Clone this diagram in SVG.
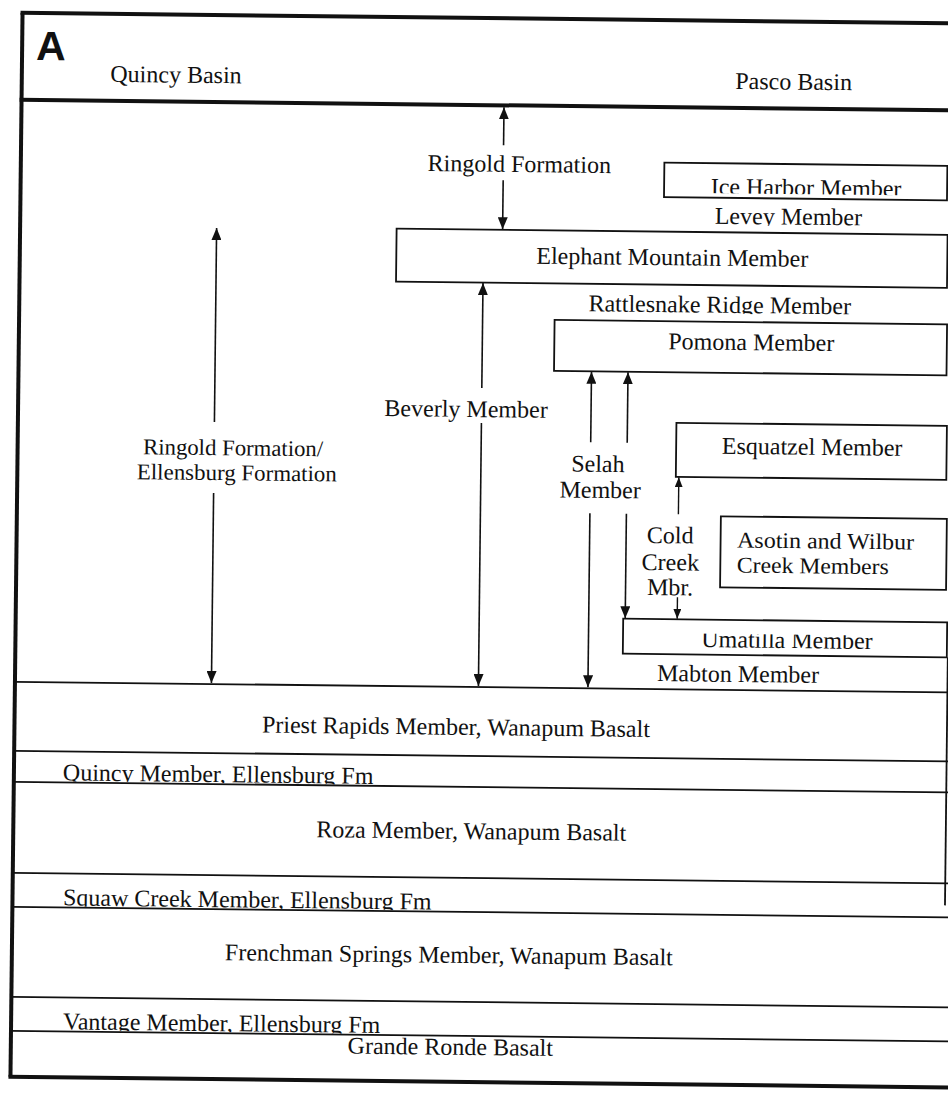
<svg xmlns="http://www.w3.org/2000/svg" width="948" height="1096" viewBox="0 0 948 1096">
  <style>
    .t { font-family: "Liberation Serif", "Times New Roman", serif; font-size: 24px; fill: #111; }
    .t2 { font-family: "Liberation Serif", "Times New Roman", serif; font-size: 22.5px; fill: #111; }
    .c { text-anchor: middle; }
    .box { fill: none; stroke: #111; stroke-width: 1.8; }
    .band { stroke: #111; stroke-width: 1.8; fill: none; }
    .frame { stroke: #111; stroke-width: 4; fill: none; }
    .arr { stroke: #111; stroke-width: 1.6; fill: none; marker-end: url(#ah); }
    .arr-s { stroke: #111; stroke-width: 1.4; fill: none; marker-end: url(#ahs); }
  </style>
  <defs>
    <marker id="ah" viewBox="0 0 12 10" refX="12" refY="5" markerWidth="12" markerHeight="10" markerUnits="userSpaceOnUse" orient="auto">
      <path d="M0,0 L12,5 L0,10 z" fill="#111"/>
    </marker>
    <marker id="ahs" viewBox="0 0 10 8" refX="10" refY="4" markerWidth="10" markerHeight="8" markerUnits="userSpaceOnUse" orient="auto">
      <path d="M0,0 L10,4 L0,8 z" fill="#111"/>
    </marker>
    <!-- clip regions that trim lettering where it runs into a line -->
    <clipPath id="cut-ice" clipPathUnits="userSpaceOnUse"><rect x="0" y="0" width="960" height="190.5"/></clipPath>
    <clipPath id="cut-levey" clipPathUnits="userSpaceOnUse"><rect x="0" y="0" width="960" height="222.5"/></clipPath>
    <clipPath id="cut-rattle" clipPathUnits="userSpaceOnUse"><rect x="0" y="0" width="960" height="311"/></clipPath>
    <clipPath id="cut-uma" clipPathUnits="userSpaceOnUse"><rect x="0" y="631" width="960" height="100"/></clipPath>
    <clipPath id="cut-quincy" clipPathUnits="userSpaceOnUse"><rect x="0" y="700" width="960" height="86"/></clipPath>
    <clipPath id="cut-squaw" clipPathUnits="userSpaceOnUse"><rect x="0" y="850" width="960" height="61"/></clipPath>
    <clipPath id="cut-vantage" clipPathUnits="userSpaceOnUse"><rect x="0" y="990" width="960" height="45"/></clipPath>
  </defs>

  <rect x="0" y="0" width="948" height="1096" fill="#fff"/>

  <!-- whole chart sits slightly tilted on the page -->
  <g transform="rotate(0.65 474 548)">

    <g id="frame">
      <line class="frame" x1="16.5" y1="18" x2="16.5" y2="1082"/>
      <line class="frame" x1="14.5" y1="18" x2="970" y2="18"/>
      <line class="frame" x1="14.5" y1="105" x2="970" y2="105" stroke-width="3.5"/>
      <line class="frame" x1="14.5" y1="1082" x2="970" y2="1082"/>
      <line class="band" x1="949" y1="652" x2="949" y2="900" stroke-width="2"/>
    </g>

    <g id="header">
      <text x="30.5" y="65" font-family="Liberation Sans, Arial, sans-serif" font-weight="bold" font-size="41" fill="#111">A</text>
      <text class="t" x="105" y="86">Quincy Basin</text>
      <text class="t" x="730" y="86">Pasco Basin</text>
    </g>

    <!-- stratigraphic bands -->
    <g id="bands">
      <line class="band" x1="16.5" y1="687" x2="970" y2="687"/>
      <line class="band" x1="16.5" y1="756" x2="970" y2="756"/>
      <line class="band" x1="16.5" y1="787" x2="970" y2="787"/>
      <line class="band" x1="16.5" y1="878" x2="970" y2="878"/>
      <line class="band" x1="16.5" y1="912" x2="970" y2="912"/>
      <line class="band" x1="16.5" y1="1002" x2="970" y2="1002"/>
      <line class="band" x1="16.5" y1="1036" x2="970" y2="1036"/>
    </g>

    <g id="ringold-top">
      <text class="t c" x="515" y="171.5">Ringold Formation</text>
    </g>

    <g id="ice-harbor">
      <rect class="box" x="660" y="160.5" width="283" height="34.5"/>
      <text class="t c" x="802" y="192" clip-path="url(#cut-ice)">Ice Harbor Member</text>
    </g>

    <g id="levey">
      <text class="t" x="711" y="221" clip-path="url(#cut-levey)">Levey Member</text>
    </g>

    <g id="elephant-mountain">
      <rect class="box" x="393" y="229.5" width="551" height="53"/>
      <text class="t c" x="669" y="263">Elephant Mountain Member</text>
    </g>

    <g id="rattlesnake-ridge">
      <text class="t c" x="717" y="310" clip-path="url(#cut-rattle)">Rattlesnake Ridge Member</text>
    </g>

    <g id="pomona">
      <rect class="box" x="552" y="319" width="392.5" height="51"/>
      <text class="t c" x="749" y="347">Pomona Member</text>
    </g>

    <g id="beverly">
      <text class="t c" x="464.5" y="417">Beverly Member</text>
    </g>

    <g id="ringold-ellensburg">
      <text class="t2 c" x="232" y="458" textLength="180" lengthAdjust="spacingAndGlyphs">Ringold Formation/</text>
      <text class="t2 c" x="236" y="483" textLength="200" lengthAdjust="spacingAndGlyphs">Ellensburg Formation</text>
    </g>

    <g id="selah">
      <text class="t c" x="597" y="470.5">Selah</text>
      <text class="t c" x="599.5" y="496.5">Member</text>
    </g>

    <g id="esquatzel">
      <rect class="box" x="675" y="420.5" width="270.5" height="54"/>
      <text class="t c" x="811" y="451">Esquatzel Member</text>
    </g>

    <g id="cold-creek">
      <text class="t c" x="670" y="541">Cold</text>
      <text class="t c" x="670.5" y="568">Creek</text>
      <text class="t c" x="670.5" y="593">Mbr.</text>
    </g>

    <g id="asotin-wilbur">
      <rect class="box" x="720.5" y="513.5" width="226" height="71"/>
      <text class="t2" x="737" y="544.5" textLength="177" lengthAdjust="spacingAndGlyphs">Asotin and Wilbur</text>
      <text class="t2" x="737" y="569.5" textLength="152" lengthAdjust="spacingAndGlyphs">Creek Members</text>
    </g>

    <g id="umatilla">
      <rect class="box" x="624" y="617" width="324" height="35"/>
      <text class="t c" x="788" y="644.5" clip-path="url(#cut-uma)">Umatilla Member</text>
    </g>

    <g id="mabton">
      <text class="t" x="658.5" y="679">Mabton Member</text>
    </g>

    <g id="priest-rapids">
      <text class="t c" x="458" y="735">Priest Rapids Member, Wanapum Basalt</text>
    </g>

    <g id="quincy">
      <text class="t" x="65.5" y="785" clip-path="url(#cut-quincy)">Quincy Member, Ellensburg Fm</text>
    </g>

    <g id="roza">
      <text class="t c" x="474.5" y="839">Roza Member, Wanapum Basalt</text>
    </g>

    <g id="squaw-creek">
      <text class="t" x="67" y="910" clip-path="url(#cut-squaw)">Squaw Creek Member, Ellensburg Fm</text>
    </g>

    <g id="frenchman-springs">
      <text class="t c" x="453.5" y="963">Frenchman Springs Member, Wanapum Basalt</text>
    </g>

    <g id="vantage">
      <text class="t" x="68.5" y="1034" clip-path="url(#cut-vantage)">Vantage Member, Ellensburg Fm</text>
    </g>

    <g id="grande-ronde">
      <text class="t c" x="456" y="1055">Grande Ronde Basalt</text>
    </g>

    <!-- range arrows -->
    <g id="connectors">
      <line class="arr" x1="499" y1="145" x2="499" y2="107"/>
      <line class="arr" x1="499" y1="180" x2="499" y2="229"/>
      <line class="arr" x1="213" y1="425" x2="213" y2="231"/>
      <line class="arr" x1="213" y1="496" x2="213" y2="686"/>
      <line class="arr" x1="480" y1="388" x2="480" y2="283"/>
      <line class="arr" x1="480" y1="423" x2="480" y2="686"/>
      <line class="arr" x1="589.5" y1="441" x2="589.5" y2="370.5"/>
      <line class="arr" x1="626" y1="441" x2="626" y2="370.5"/>
      <line class="arr" x1="589.5" y1="512" x2="589.5" y2="686"/>
      <line class="arr" x1="626" y1="512" x2="626" y2="616.5"/>
      <line class="arr-s" x1="678" y1="512" x2="678" y2="475"/>
      <line class="arr-s" x1="678" y1="595" x2="678" y2="616.5"/>
    </g>
  </g>
</svg>
